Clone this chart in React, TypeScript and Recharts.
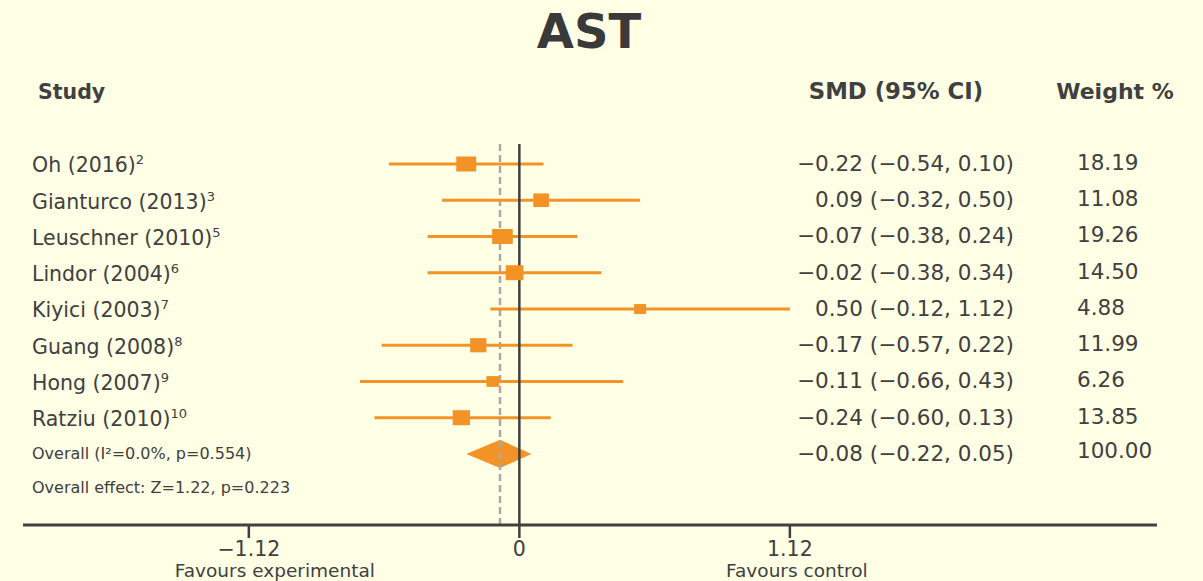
import React from 'react';
import { ComposedChart, XAxis, YAxis, Scatter, ErrorBar, Area, ReferenceLine, Line } from 'recharts';

// ---------- data ----------
const studies = ['Oh (2016)', 'Gianturco (2013)', 'Leuschner (2010)', 'Lindor (2004)', 'Kiyici (2003)', 'Guang (2008)', 'Hong (2007)', 'Ratziu (2010)'];
const refs = ['2', '3', '5', '6', '7', '8', '9', '10'];
const smd = [-0.22, 0.09, -0.07, -0.02, 0.5, -0.17, -0.11, -0.24];
const lower = [-0.54, -0.32, -0.38, -0.38, -0.12, -0.57, -0.66, -0.6];
const upper = [0.1, 0.5, 0.24, 0.34, 1.12, 0.22, 0.43, 0.13];
const weights = [18.19, 11.08, 19.26, 14.5, 4.88, 11.99, 6.26, 13.85];

const overallSmd = -0.08;
const overallLower = -0.22;
const overallUpper = 0.05;
const overallWeight = 100.0;
const heterogeneityLabel = 'Overall (I\u00B2=0.0%, p=0.554)';
const effectLabel = 'Overall effect: Z=1.22, p=0.223';

const xTicks = [-1.12, 0, 1.12];
const title = 'AST';
const headers = ['Study', 'SMD (95% CI)', 'Weight %'];
const favours = ['Favours experimental', 'Favours control'];

// ---------- style / layout ----------
const W = 1203;
const H = 581;
const BG = '#FFFFE6';
const FONT = '"DejaVu Sans", Verdana, sans-serif';
const TEXT = '#404040';
const ORANGE = '#F39326';
const DASH = '#A9A9A9';
const DIAMOND_HALF = 0.39;
const X_DOMAIN: [number, number] = [-2.055, 2.64];
const Y_DOMAIN: [number, number] = [-1, 9.96];
const LINE_TOP = -0.55;

const fmt = (v: number) => (v < 0 ? '\u2212' : '') + Math.abs(v).toFixed(2);
const fmtTick = (v: number) => (v === 0 ? '0' : fmt(v));

const overallRow = studies.length;
const effectRow = studies.length + 1;
const rowTicks = Array.from({ length: studies.length + 2 }, (_, i) => i);

const studyData = studies.map((s, i) => ({
  x: smd[i],
  y: i,
  err: [smd[i] - lower[i], upper[i] - smd[i]],
  weight: weights[i],
}));

const diamondData = [
  { x: overallLower, band: [overallRow, overallRow] },
  { x: overallSmd, band: [overallRow - DIAMOND_HALF, overallRow + DIAMOND_HALF] },
  { x: overallUpper, band: [overallRow, overallRow] },
];

const overallLineData = [
  { x: overallSmd, v: LINE_TOP },
  { x: overallSmd, v: Y_DOMAIN[1] },
];

const markerW = (w: number) => 9 + 0.6 * w;
const markerH = (w: number) => Math.min(15, markerW(w) - 2);

const Marker = (props: any) => {
  const { cx, cy, payload } = props;
  if (cx == null || cy == null) return null;
  const w = markerW(payload.weight);
  const h = markerH(payload.weight);
  return <rect x={cx - w / 2} y={cy - h / 2} width={w} height={h} fill={ORANGE} />;
};

const LABEL_X = 32;
const SMD_X = 1014;
const WEIGHT_X = 1077;

const RowTick = (props: any) => {
  const { y, payload } = props;
  const i = payload.value as number;
  if (i < studies.length) {
    return (
      <g fontFamily={FONT} fill={TEXT}>
        <text x={LABEL_X} y={y + 8.5} fontSize={20.5}>
          {studies[i]}
          <tspan fontSize={13} dy={-8}>{refs[i]}</tspan>
        </text>
        <text x={SMD_X} y={y + 7} fontSize={21.5} textAnchor="end">
          {`${fmt(smd[i])} (${fmt(lower[i])}, ${fmt(upper[i])})`}
        </text>
        <text x={WEIGHT_X} y={y + 6} fontSize={21.5}>
          {weights[i].toFixed(2)}
        </text>
      </g>
    );
  }
  if (i === overallRow) {
    return (
      <g fontFamily={FONT} fill={TEXT}>
        <text x={LABEL_X} y={y + 5} fontSize={16}>{heterogeneityLabel}</text>
        <text x={SMD_X} y={y + 7} fontSize={21.5} textAnchor="end">
          {`${fmt(overallSmd)} (${fmt(overallLower)}, ${fmt(overallUpper)})`}
        </text>
        <text x={WEIGHT_X} y={y + 4} fontSize={21.5}>
          {overallWeight.toFixed(2)}
        </text>
      </g>
    );
  }
  if (i === effectRow) {
    return (
      <g fontFamily={FONT} fill={TEXT}>
        <text x={LABEL_X} y={y + 3} fontSize={16}>{effectLabel}</text>
      </g>
    );
  }
  return null;
};

const XTick = (props: any) => {
  const { x, y, payload } = props;
  const v = payload.value as number;
  const fav = v < 0 ? favours[0] : v > 0 ? favours[1] : null;
  const favDx = v < 0 ? 26 : 7;
  return (
    <g fontFamily={FONT} fill={TEXT}>
      <text x={x} y={y + 16} fontSize={20.5} textAnchor="middle">{fmtTick(v)}</text>
      {fav && (
        <text x={x + favDx} y={y + 37} fontSize={18.5} textAnchor="middle">{fav}</text>
      )}
    </g>
  );
};

export default function App() {
  return (
    <div style={{ position: 'absolute', left: 0, top: 0, width: W, height: H, background: BG, overflow: 'hidden' }}>
      <svg width={W} height={H} style={{ position: 'absolute', left: 0, top: 0 }}>
        <g fontFamily={FONT} fill={TEXT} fontWeight="bold">
          <text x={589} y={48} fontSize={48} textAnchor="middle" fill="#3A3A3A">{title}</text>
          <text x={38} y={99} fontSize={20.5}>{headers[0]}</text>
          <text x={896} y={99} fontSize={22.8} textAnchor="middle">{headers[1]}</text>
          <text x={1115} y={99} fontSize={22} textAnchor="middle">{headers[2]}</text>
        </g>
      </svg>
      <div style={{ position: 'absolute', left: 0, top: 0 }}>
        <ComposedChart width={W} height={H} margin={{ top: 127.75, right: 46, bottom: 0, left: 22 }}>
          <XAxis
            type="number"
            dataKey="x"
            domain={X_DOMAIN}
            allowDataOverflow
            ticks={xTicks}
            interval={0}
            height={56}
            axisLine={{ stroke: TEXT, strokeWidth: 3 }}
            tickLine={{ stroke: TEXT, strokeWidth: 2.5 }}
            tickSize={13}
            tick={<XTick />}
          />
          <YAxis
            type="number"
            dataKey="y"
            domain={Y_DOMAIN}
            allowDataOverflow
            reversed
            ticks={rowTicks}
            interval={0}
            width={1}
            axisLine={false}
            tickLine={false}
            tick={<RowTick />}
          />
          <Line
            data={overallLineData}
            dataKey="v"
            type="linear"
            stroke={DASH}
            strokeWidth={2.5}
            strokeDasharray="7 4"
            dot={false}
            activeDot={false}
            isAnimationActive={false}
          />
          <Area
            data={diamondData}
            dataKey="band"
            type="linear"
            fill={ORANGE}
            fillOpacity={1}
            stroke="none"
            dot={false}
            activeDot={false}
            isAnimationActive={false}
          />
          <Scatter data={studyData} shape={<Marker />} isAnimationActive={false}>
            <ErrorBar dataKey="err" direction="x" width={0} stroke={ORANGE} strokeWidth={3} />
          </Scatter>
          <ReferenceLine
            segment={[{ x: 0, y: LINE_TOP }, { x: 0, y: Y_DOMAIN[1] }]}
            stroke={TEXT}
            strokeWidth={2.5}
          />
        </ComposedChart>
      </div>
    </div>
  );
}
